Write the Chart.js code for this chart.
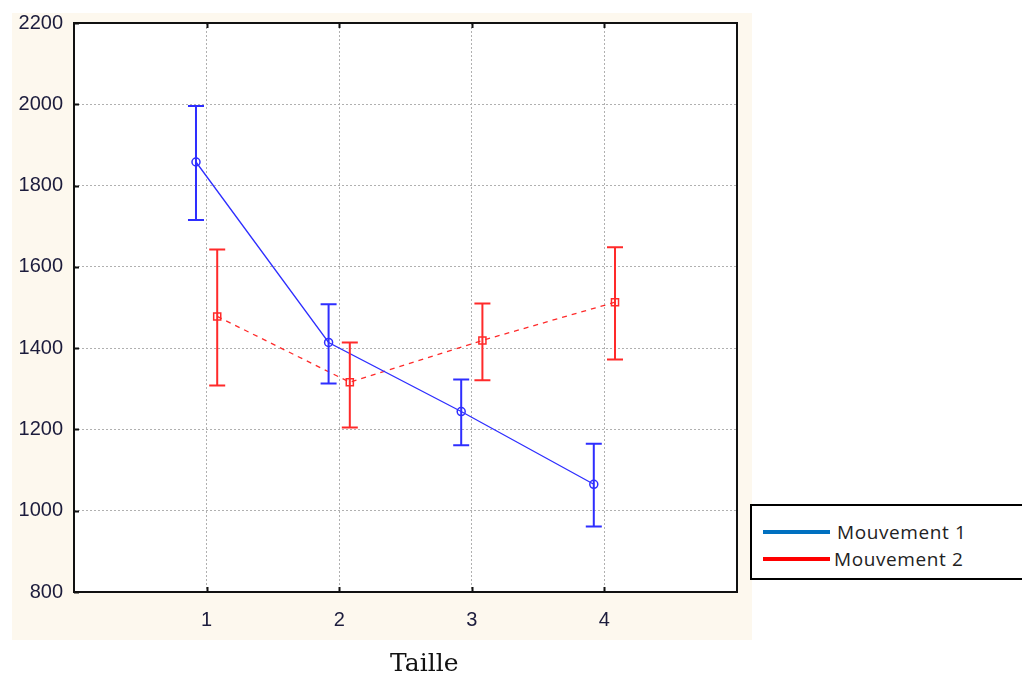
<!DOCTYPE html>
<html>
<head>
<meta charset="utf-8">
<script src="https://cdn.jsdelivr.net/npm/chart.js@4.4.1/dist/chart.umd.min.js"></script>
<style>
  html, body { margin: 0; padding: 0; background: #ffffff; }
  #wrap { position: relative; width: 1022px; height: 677px; overflow: hidden; }
  #c { position: absolute; left: 0; top: 0; }
  #legend { position: absolute; left: 750px; top: 504px; width: 280px; height: 72px;
            border: 2px solid #000; background: #fff; font-family: "Open Sans", sans-serif;
            font-size: 19px; color: #222; }
  .row { position: absolute; left: 0; height: 24px; }
  .sw { position: absolute; left: 11px; width: 67px; height: 4px; }
  .lbl { position: absolute; white-space: nowrap; line-height: 24px; letter-spacing: 0.6px; }
  #xtitle { position: absolute; left: 390px; top: 648px; font-family: "DejaVu Serif", serif;
            font-size: 25px; color: #111; white-space: nowrap; }
</style>
</head>
<body>
<div id="wrap">
  <canvas id="c" width="1022" height="677"></canvas>
  <div id="legend"></div>
  <div id="xtitle"></div>
</div>
<script>
// ---- data ----
const categories = [1, 2, 3, 4];
const yTicks = [800, 1000, 1200, 1400, 1600, 1800, 2000, 2200];
const seriesNames = ['Mouvement 1', 'Mouvement 2'];
const xTitle = 'Taille';
const m1Mean = [1858, 1414, 1244, 1065];
const m1Low  = [1715, 1313, 1161, 961];
const m1High = [1996, 1508, 1323, 1165];
const m2Mean = [1478, 1316, 1419, 1513];
const m2Low  = [1308, 1205, 1321, 1372];
const m2High = [1643, 1414, 1510, 1648];

// ---- styles ----
const BLUE = '#2e2eff', RED = '#ff2a2a';
const LEG_BLUE = '#0070c0', LEG_RED = '#ff0000';
const OFFSET = 0.08;

function pts(mean, low, high, off) {
  return categories.map((c, i) => ({ x: c + off, y: mean[i], lo: low[i], hi: high[i] }));
}

const bgPlugin = {
  id: 'bg',
  beforeDraw(chart) {
    const ctx = chart.ctx;
    ctx.save();
    ctx.fillStyle = '#ffffff';
    ctx.fillRect(0, 0, chart.width, chart.height);
    ctx.fillStyle = '#fdf8ee';
    ctx.fillRect(12, 13, 740, 627);
    const a = chart.chartArea;
    ctx.fillStyle = '#ffffff';
    ctx.fillRect(a.left, a.top, a.right - a.left, a.bottom - a.top);
    ctx.restore();
  }
};

const errPlugin = {
  id: 'errbars',
  afterDatasetsDraw(chart) {
    const ctx = chart.ctx, xs = chart.scales.x, ys = chart.scales.y;
    chart.data.datasets.forEach(ds => {
      ctx.save();
      ctx.strokeStyle = ds.borderColor;
      ctx.lineWidth = 2;
      ds.data.forEach(p => {
        const x = xs.getPixelForValue(p.x);
        const y1 = ys.getPixelForValue(p.lo), y2 = ys.getPixelForValue(p.hi);
        ctx.beginPath();
        ctx.moveTo(x, y1); ctx.lineTo(x, y2);
        ctx.moveTo(x - 8, y1); ctx.lineTo(x + 8, y1);
        ctx.moveTo(x - 8, y2); ctx.lineTo(x + 8, y2);
        ctx.stroke();
      });
      ctx.restore();
    });
  }
};

const framePlugin = {
  id: 'frame',
  afterDraw(chart) {
    const ctx = chart.ctx, a = chart.chartArea, xs = chart.scales.x, ys = chart.scales.y;
    ctx.save();
    ctx.strokeStyle = '#111';
    ctx.lineWidth = 2;
    ctx.strokeRect(a.left, a.top, a.right - a.left, a.bottom - a.top);
    ctx.beginPath();
    yTicks.forEach(v => {
      const y = Math.round(ys.getPixelForValue(v)) + 0.5;
      ctx.moveTo(a.left, y); ctx.lineTo(a.left + 5, y);
    });
    categories.forEach(v => {
      const x = Math.round(xs.getPixelForValue(v)) + 0.5;
      ctx.moveTo(x, a.bottom); ctx.lineTo(x, a.bottom - 5);
      ctx.moveTo(x, a.top); ctx.lineTo(x, a.top + 5);
    });
    ctx.stroke();
    ctx.restore();
  }
};

const tickFont = { family: '"Liberation Sans", Arial, sans-serif', size: 20 };

new Chart(document.getElementById('c'), {
  type: 'line',
  data: {
    datasets: [
      {
        label: seriesNames[0],
        data: pts(m1Mean, m1Low, m1High, -OFFSET),
        borderColor: BLUE, borderWidth: 1.3,
        pointStyle: 'circle', pointRadius: 4, pointBorderWidth: 1.5,
        pointBackgroundColor: 'rgba(255,255,255,0)', pointBorderColor: BLUE,
        tension: 0, fill: false
      },
      {
        label: seriesNames[1],
        data: pts(m2Mean, m2Low, m2High, OFFSET),
        borderColor: RED, borderWidth: 1.3, borderDash: [5, 5],
        pointStyle: 'rect', pointRadius: 5, pointBorderWidth: 1.5,
        pointBackgroundColor: 'rgba(255,255,255,0)', pointBorderColor: RED,
        tension: 0, fill: false
      }
    ]
  },
  options: {
    responsive: false,
    animation: false,
    devicePixelRatio: 1,
    layout: { padding: { left: 0, top: 23, right: 285, bottom: 0 } },
    plugins: { legend: { display: false }, tooltip: { enabled: false } },
    scales: {
      x: {
        type: 'linear', min: 0, max: 5,
        afterBuildTicks(s) { s.ticks = categories.map(v => ({ value: v })); },
        afterFit(s) { s.height = 85; },
        grid: { color: '#b0b0b0', lineWidth: 1, drawTicks: false },
        border: { display: false, dash: [2, 2] },
        ticks: { font: tickFont, color: '#1c1c3c', padding: 16, maxRotation: 0,
                 callback: v => String(v) }
      },
      y: {
        type: 'linear', min: 800, max: 2200,
        afterBuildTicks(s) { s.ticks = yTicks.map(v => ({ value: v })); },
        afterFit(s) { s.width = 74; },
        grid: { color: '#b0b0b0', lineWidth: 1, drawTicks: false },
        border: { display: false, dash: [2, 2] },
        ticks: { font: tickFont, color: '#1c1c3c', padding: 11,
                 callback: v => String(v) }
      }
    }
  },
  plugins: [bgPlugin, errPlugin, framePlugin]
});

// ---- legend (HTML) ----
const leg = document.getElementById('legend');
[[seriesNames[0], LEG_BLUE, 14, 20], [seriesNames[1], LEG_RED, 41, 17]].forEach(([name, col, top, gap]) => {
  const row = document.createElement('div');
  row.className = 'row'; row.style.top = top + 'px'; row.style.width = '100%';
  const sw = document.createElement('div');
  sw.className = 'sw'; sw.style.background = col; sw.style.top = '10px';
  const t = document.createElement('div');
  t.className = 'lbl'; t.textContent = name; t.style.left = (11 + 67 + gap - 13) + 'px';
  row.appendChild(sw); row.appendChild(t); leg.appendChild(row);
});
document.getElementById('xtitle').textContent = xTitle;
</script>
</body>
</html>
